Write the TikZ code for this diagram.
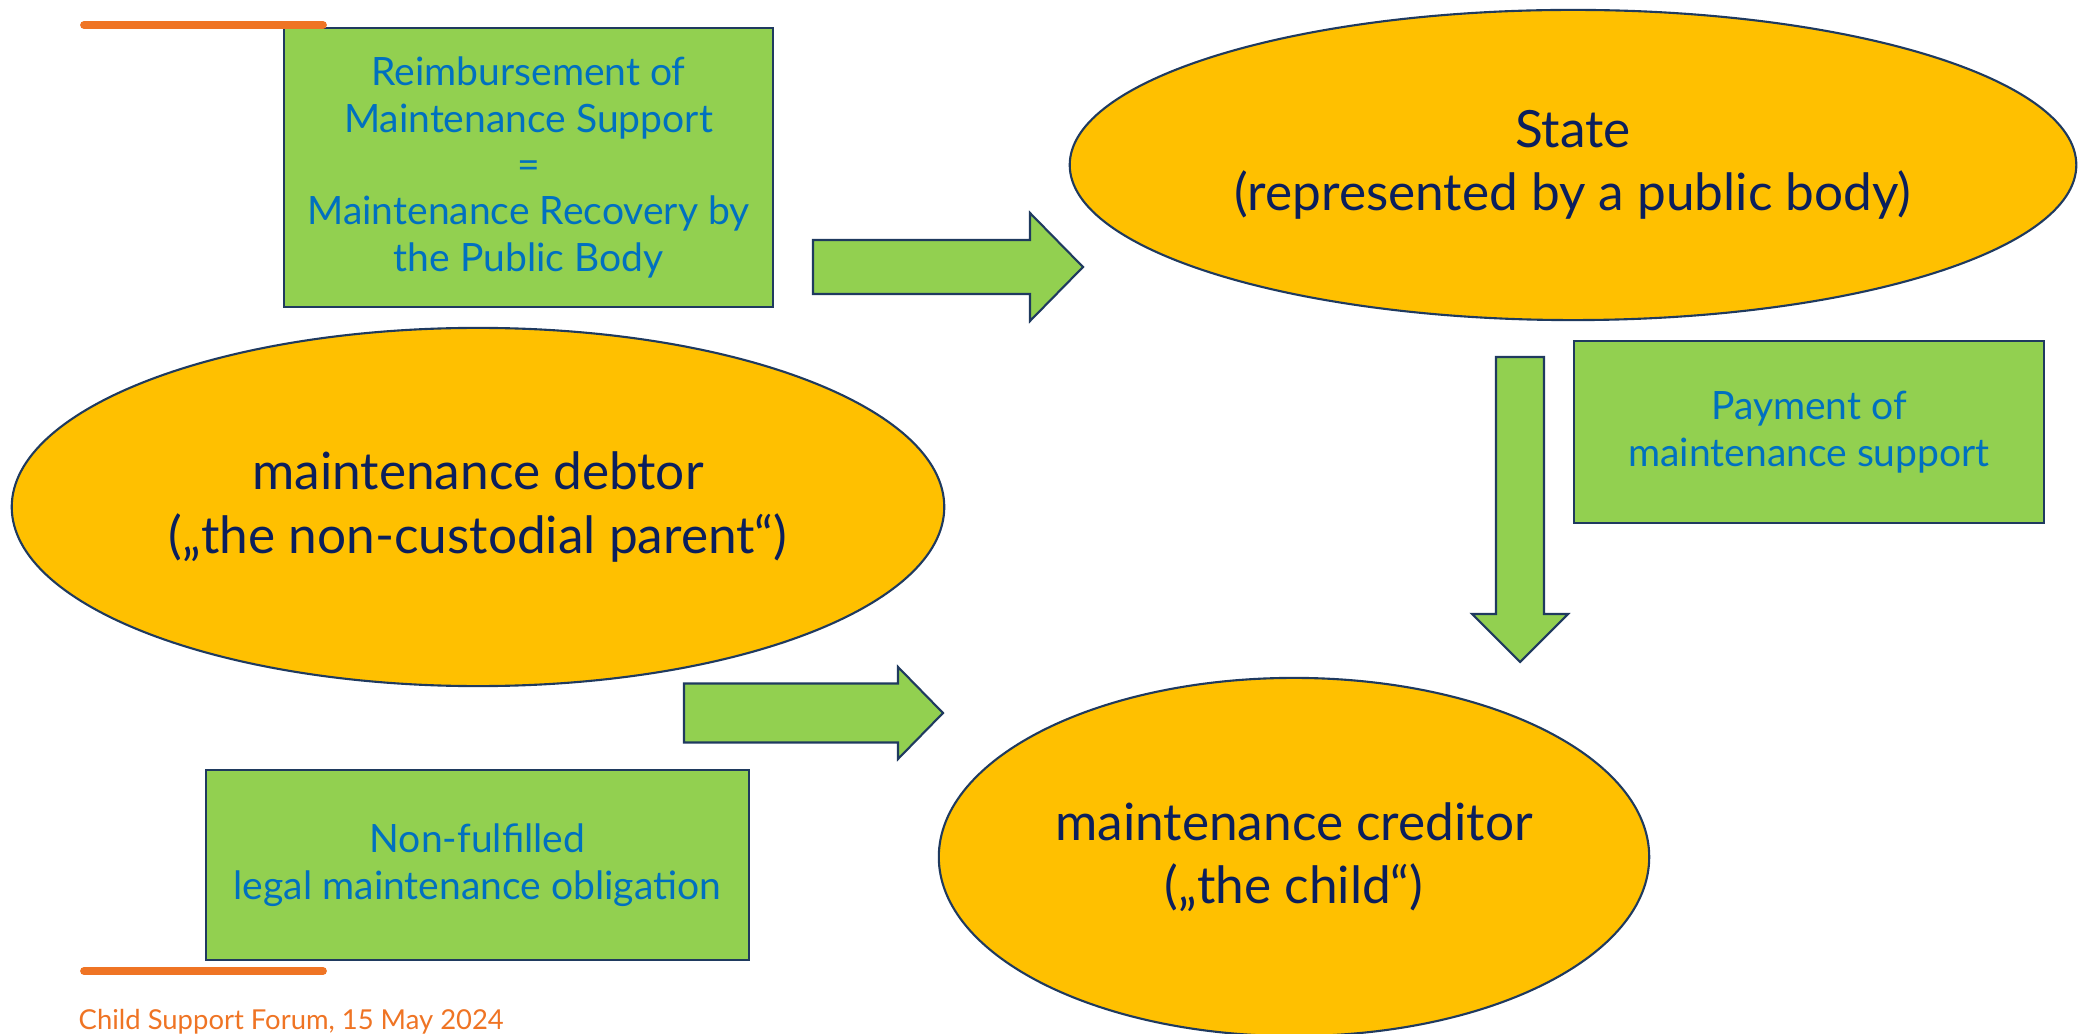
\documentclass[tikz,border=0pt]{standalone}
\usepackage{fontspec}
\setmainfont{Lato}
\usetikzlibrary{shapes.geometric}

\definecolor{boxgreen}{HTML}{92D050}
\definecolor{partyorange}{HTML}{FFC000}
\definecolor{edgenavy}{HTML}{1F3A5F}
\definecolor{textnavy}{HTML}{0B1F5C}
\definecolor{textblue}{HTML}{0070C0}
\definecolor{accentorange}{HTML}{EF7424}

\begin{document}
\begin{tikzpicture}
    [
      x=0.01cm, y=-0.01cm,
      party/.style={ellipse,draw=edgenavy,fill=partyorange,text=textnavy,align=center,inner sep=0pt,line width=0.6pt,font=\fontsize{14.6}{18}\selectfont},
      remark/.style={rectangle,draw=edgenavy,fill=boxgreen,text=textblue,align=center,inner sep=0pt,line width=0.6pt,font=\fontsize{11.1}{13.2}\selectfont},
      flow/.style={draw=edgenavy,fill=boxgreen,line width=0.6pt,line join=miter},
      accent/.style={draw=accentorange,line width=2.2pt,line cap=round},
    ]

    \useasboundingbox (0,0) rectangle (2083,1034);

    \node (state) [party,minimum width=10.06cm,minimum height=3.10cm] at (1573,165) {State\\(represented by a public body)};
    \node (debtor) [party,minimum width=9.32cm,minimum height=3.58cm] at (478,507) {maintenance debtor\\(„the non-custodial parent“)};
    \node (creditor) [party,minimum width=7.10cm,minimum height=3.58cm] at (1294,857) {maintenance creditor\\(„the child“)};

    \node (refund) [remark,minimum width=4.89cm,minimum height=2.79cm] at (528.5,167.5) {Reimbursement of\\Maintenance Support\\=\\Maintenance Recovery by\\the Public Body};
    \node (payment) [remark,minimum width=4.70cm,minimum height=1.82cm] at (1809,432) {Payment of\\maintenance support};
    \node (unfulfilled) [remark,minimum width=5.43cm,minimum height=1.90cm] at (477.5,865) {Non-fulfilled\\legal maintenance obligation};

    % block arrows
    \coordinate (refund-tail) at (813,267);
    \coordinate (payment-tail) at (1520,357);
    \coordinate (debt-tail) at (684,713);
    \filldraw [flow] (refund-tail) ++(0,-27) -- ++(217,0) -- ++(0,-27) -- ++(53,54) -- ++(-53,54) -- ++(0,-27) -- ++(-217,0) -- cycle;
    \filldraw [flow] (payment-tail) ++(-24,0) -- ++(0,257) -- ++(-24,0) -- ++(48,48) -- ++(48,-48) -- ++(-24,0) -- ++(0,-257) -- cycle;
    \filldraw [flow] (debt-tail) ++(0,-29.5) -- ++(214,0) -- ++(0,-16.5) -- ++(45,46) -- ++(-45,46) -- ++(0,-16.5) -- ++(-214,0) -- cycle;

    \draw [accent] (84,25) -- (323,25);
    \draw [accent] (84,971) -- (323,971);
    \node (footer) [anchor=base west,inner sep=0pt,text=accentorange,font=\fontsize{7.8}{10}\selectfont] at (78,1029) {Child Support Forum, 15 May 2024};

  \end{tikzpicture}
\end{document}
